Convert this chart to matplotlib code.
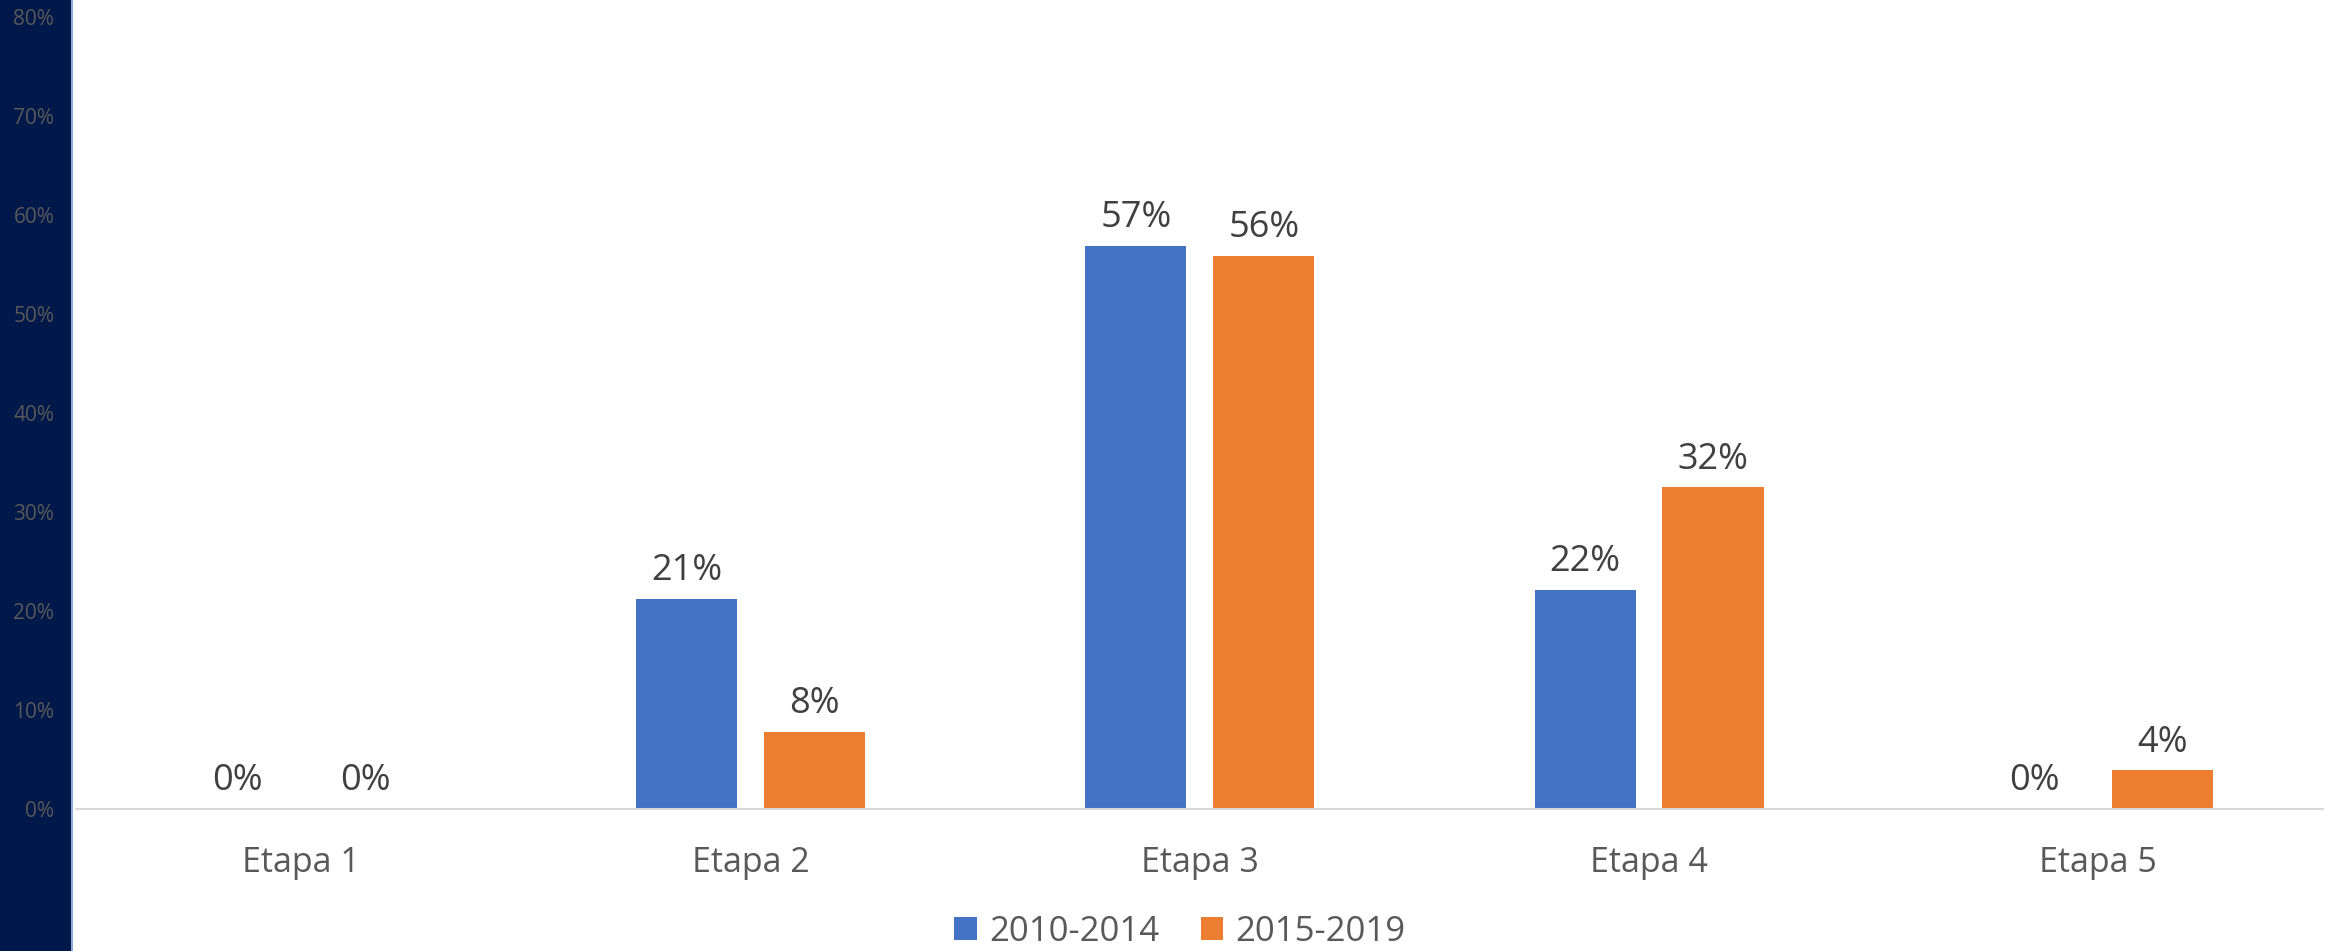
import numpy as np
import matplotlib.pyplot as plt
from matplotlib.patches import Rectangle
from matplotlib.lines import Line2D

categories = ["Etapa 1", "Etapa 2", "Etapa 3", "Etapa 4", "Etapa 5"]
series_names = ["2010-2014", "2015-2019"]
values_2010_2014 = [0.0, 21.2, 56.9, 22.1, 0.0]
values_2015_2019 = [0.0, 7.8, 55.9, 32.5, 3.9]
labels_2010_2014 = ["0%", "21%", "57%", "22%", "0%"]
labels_2015_2019 = ["0%", "8%", "56%", "32%", "4%"]
y_ticks = [0, 10, 20, 30, 40, 50, 60, 70, 80]

plt.rcParams['font.family'] = ['Open Sans', 'DejaVu Sans']

W, H = 2336, 951
fig = plt.figure(figsize=(W / 100, H / 100), dpi=100)
ax = fig.add_axes([76.5 / W, 1 - 809 / H, (2323 - 76.5) / W, (809 - 17) / H])

# navy band on the left
fig.patches.append(Rectangle((0, 0), 71 / W, 1, transform=fig.transFigure,
                             facecolor='#00184A', edgecolor='none', zorder=-2))
fig.lines.append(Line2D([72 / W, 72 / W], [0, 1], transform=fig.transFigure,
                        color='#8FAADC', linewidth=1.5, zorder=-1))

x = np.arange(len(categories))
w = 0.225
off = 0.1424
b1 = ax.bar(x - off, values_2010_2014, w, color='#4472C4', label=series_names[0])
b2 = ax.bar(x + off, values_2015_2019, w, color='#ED7D31', label=series_names[1])

for bars, labs in ((b1, labels_2010_2014), (b2, labels_2015_2019)):
    for r, t in zip(bars, labs):
        ax.annotate(t, (r.get_x() + r.get_width() / 2, r.get_height()),
                    xytext=(0, 7), textcoords='offset points',
                    ha='center', va='bottom', fontsize=26, color='#404040')

ax.set_xlim(-0.5, len(categories) - 0.5)
ax.set_ylim(0, 80)
ax.set_yticks(y_ticks)
ax.set_yticklabels([f"{v}%" for v in y_ticks], fontsize=15, color='#595959')
ax.set_xticks(x)
ax.set_xticklabels(categories, fontsize=24.5, color='#595959')
ax.tick_params(axis='y', length=0, pad=16)
ax.tick_params(axis='x', length=0, pad=27)
for s in ['top', 'right', 'left']:
    ax.spines[s].set_visible(False)
ax.spines['bottom'].set_color('#D9D9D9')
ax.spines['bottom'].set_linewidth(1.5)

leg = fig.legend(handles=[b1, b2], loc='center', bbox_to_anchor=(1180 / W, 1 - 932 / H),
                 ncol=2, frameon=False, fontsize=25, handlelength=0.65, handleheight=0.65,
                 handletextpad=0.35, columnspacing=1.2, borderpad=0)
for t in leg.get_texts():
    t.set_color('#595959')

fig.savefig("out.png", dpi=100)
